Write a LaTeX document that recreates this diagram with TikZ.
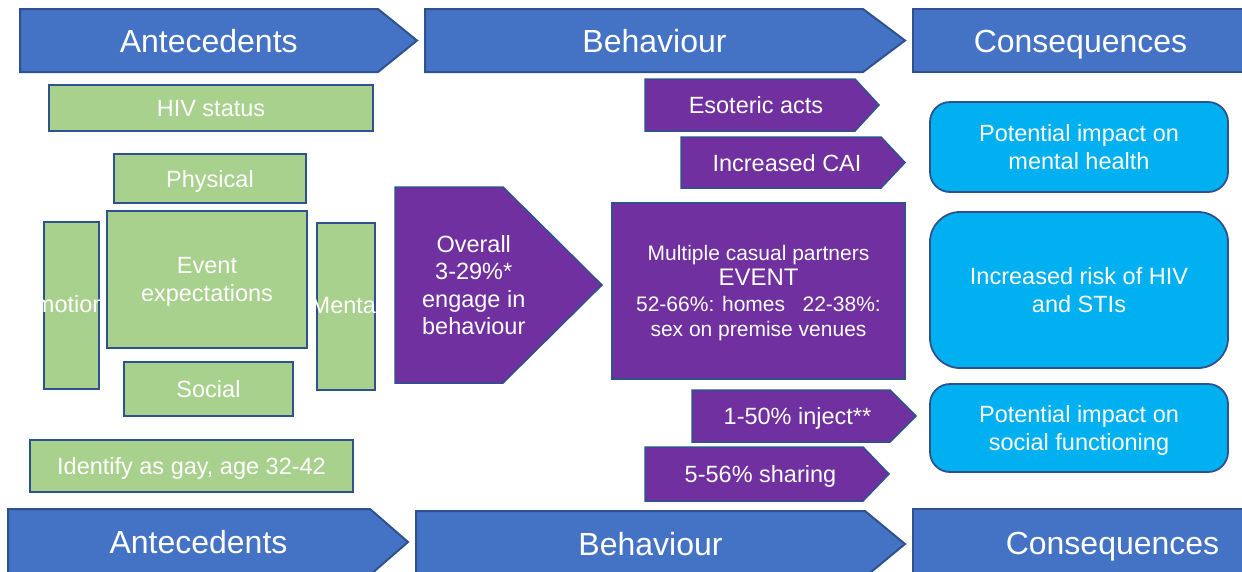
\documentclass[tikz,border=0pt]{standalone}
\usepackage{fontspec}
\setmainfont{Liberation Sans}
\definecolor{hdr}{HTML}{4472C4}
\definecolor{edgeb}{HTML}{2F528F}
\definecolor{grn}{HTML}{A9D18E}
\definecolor{purp}{HTML}{7030A0}
\definecolor{cyanb}{HTML}{00B0F0}
% #1 shape style, #2 text style, #3 name, #4 left, #5 top, #6 point start, #7 tip, #8 bottom, #9 text
\newcommand\arrowshape[9]{%
  \draw[#1] (#4,#5) -- (#6,#5) -- (#7,{(#5+#8)/2}) -- (#6,#8) -- (#4,#8) -- cycle;
  \node[#2] (#3) at ({(#4+(#6+#7)/2)/2},{(#5+#8)/2}) {#9};
}
% #1 style, #2 name, #3 left, #4 top, #5 right, #6 bottom, #7 text
\newcommand\boxat[7]{%
  \node[#1, minimum width={#5-#3}, minimum height={#6-#4}] (#2) at ({(#3+#5)/2},{(#4+#6)/2}) {#7};
}
\begin{document}
\begin{tikzpicture}[x=1pt,y=-1pt,
  hdrshape/.style={fill=hdr, draw=edgeb, line width=2pt, line join=miter},
  hdrtext/.style={text=white, inner sep=0pt, text depth=0pt, font=\fontsize{32}{38}\selectfont},
  bodyfont/.style={font=\fontsize{23.5}{27.5}\selectfont},
  grnbox/.style={fill=grn, draw=edgeb, line width=2.5pt, text=white, inner sep=0pt, text depth=0pt, align=center, bodyfont},
  purshape/.style={fill=purp, draw=edgeb, line width=1.5pt},
  purtext/.style={text=white, inner sep=0pt, text depth=0pt, align=center, bodyfont},
  purbox/.style={fill=purp, draw=edgeb, line width=1.5pt, text=white, inner sep=0pt, text depth=0pt, align=center},
  cybox/.style={fill=cyanb, draw=edgeb, line width=1.8pt, rounded corners=20pt, text=white, inner sep=0pt, text depth=0pt, align=center, bodyfont},
  cnlabel/.style={text=white, inner sep=0pt, text depth=0pt, bodyfont, align=center}
]
\useasboundingbox (0,0) rectangle (1242,571);

% top banners
\arrowshape{hdrshape}{hdrtext}{tAnte}{20}{9}{378}{417}{72}{Antecedents}
\arrowshape{hdrshape}{hdrtext}{tBeh}{425}{9}{863}{905}{72}{Behaviour}
\draw[hdrshape] (913,9) rectangle (1262,72);
\node[hdrtext] (tCons) at (1080.5,41) {Consequences};

% bottom banners
\arrowshape{hdrshape}{hdrtext}{bAnte}{8}{509}{370}{408}{575}{Antecedents}
\arrowshape{hdrshape}{hdrtext}{bBeh}{416}{511}{865}{905}{577}{Behaviour}
\draw[hdrshape] (913,509) rectangle (1330,580);
\node[hdrtext] (bCons) at (1112.5,543) {Consequences};

% antecedents (green)
\boxat{grnbox}{hiv}{49}{85}{373}{131}{HIV status}
\boxat{grnbox}{phys}{114}{154}{306}{203}{Physical}
\boxat{grnbox}{event}{107}{211}{307}{348}{Event\\expectations}
\boxat{grnbox}{emo}{44}{222}{99}{389}{}
\boxat{grnbox}{ment}{317}{223}{375}{390}{}
\boxat{grnbox}{soc}{124}{362}{293}{416}{Social}
\boxat{grnbox}{gay}{30}{440}{353}{492}{Identify as gay, age 32-42}
\begin{scope}
  \clip (emo.south west) rectangle (emo.north east);
  \node[cnlabel] (emotext) at ([yshift=1.5pt]emo.center) {Emotional};
\end{scope}
\begin{scope}
  \clip (ment.south west) rectangle (ment.north east);
  \node[cnlabel] (menttext) at ([yshift=1.5pt]ment.center) {Mental};
\end{scope}

% behaviour (purple)
\arrowshape{purshape}{purtext}{overall}{395}{187}{503}{602}{383}{Overall\\3-29\%*\\engage in\\behaviour}
\boxat{purbox, font=\fontsize{21}{25.5}\selectfont}{multi}{612}{203}{905}{379}{Multiple casual partners\\{\fontsize{24}{25.5}\selectfont EVENT}\\52-66\%: homes\ \ \ 22-38\%:\\sex on premise venues}
\arrowshape{purshape}{purtext}{esot}{645}{79}{855}{879}{131}{Esoteric acts}
\arrowshape{purshape}{purtext}{cai}{681}{137}{881}{905}{188}{Increased CAI}
\arrowshape{purshape}{purtext}{inject}{692}{390}{890}{916}{442}{1-50\% inject**}
\arrowshape{purshape}{purtext}{share}{645}{447}{863}{889}{501}{5-56\% sharing}

% consequences (cyan)
\boxat{cybox}{mental}{930}{102}{1228}{192}{Potential impact on\\mental health}
\boxat{cybox, rounded corners=30pt}{hivrisk}{930}{212}{1228}{368}{Increased risk of HIV\\and STIs}
\boxat{cybox}{socfun}{930}{384}{1228}{472}{Potential impact on\\social functioning}
\end{tikzpicture}
\end{document}
